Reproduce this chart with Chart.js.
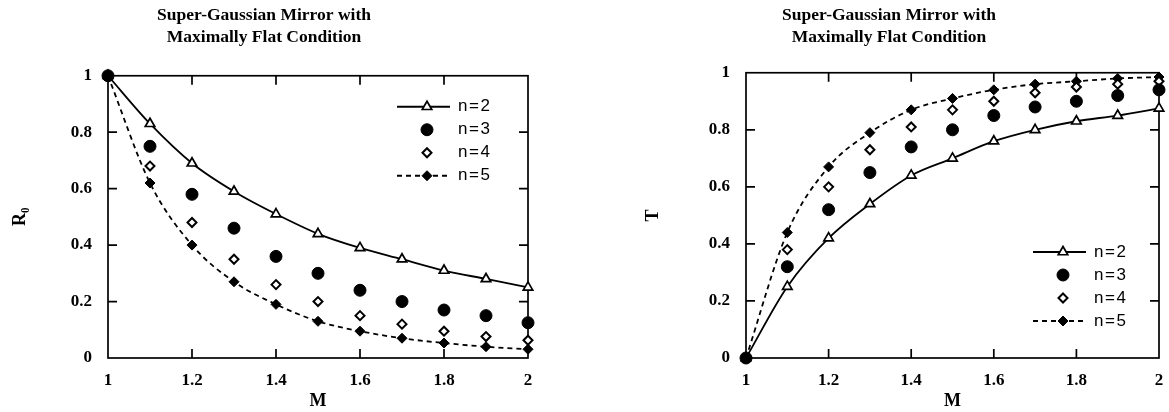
<!DOCTYPE html>
<html>
<head>
<meta charset="utf-8">
<title>Super-Gaussian Mirror with Maximally Flat Condition</title>
<script src="https://cdn.jsdelivr.net/npm/chart.js@4/dist/chart.umd.min.js"></script>
<style>
    body { margin: 0; background: #fff; }
    #r0-chart { position: absolute; left: 0; top: 0; }
    #t-chart { position: absolute; left: 619px; top: 0; }
</style>
</head>
<body>
<canvas id="r0-chart" width="554" height="412"></canvas>
<canvas id="t-chart" width="550" height="412"></canvas>
<script>
const mValues = [1, 1.1, 1.2, 1.3, 1.4, 1.5, 1.6, 1.7, 1.8, 1.9, 2]
const seriesLabels = ['n=2', 'n=3', 'n=4', 'n=5']

// R0 against M (left plot)
const r0N2 = [1, 0.83, 0.69, 0.59, 0.51, 0.44, 0.39, 0.35, 0.31, 0.28, 0.25]
const r0N3 = [1, 0.75, 0.58, 0.46, 0.36, 0.30, 0.24, 0.20, 0.17, 0.15, 0.125]
const r0N4 = [1, 0.68, 0.48, 0.35, 0.26, 0.20, 0.15, 0.12, 0.095, 0.076, 0.063]
const r0N5 = [1, 0.62, 0.40, 0.27, 0.19, 0.13, 0.095, 0.07, 0.053, 0.04, 0.031]

// T against M (right plot)
const tN2 = [0, 0.25, 0.42, 0.54, 0.64, 0.70, 0.76, 0.80, 0.83, 0.85, 0.875]
const tN3 = [0, 0.32, 0.52, 0.65, 0.74, 0.80, 0.85, 0.88, 0.90, 0.92, 0.94]
const tN4 = [0, 0.38, 0.60, 0.73, 0.81, 0.87, 0.90, 0.93, 0.95, 0.96, 0.97]
const tN5 = [0, 0.44, 0.67, 0.79, 0.87, 0.91, 0.94, 0.96, 0.97, 0.98, 0.985]

const xTicks = [1, 1.2, 1.4, 1.6, 1.8, 2]
const yTicks = [0, 0.2, 0.4, 0.6, 0.8, 1]
const titleLines = ['Super-Gaussian Mirror with', 'Maximally Flat Condition']

Chart.defaults.font.family = '"Liberation Serif", serif'
Chart.defaults.color = '#000'

function toPoints(values) {
    return mValues.map((m, i) => ({ x: m, y: values[i] }))
}

function buildDatasets(n2, n3, n4, n5) {
    return [
        {
            label: seriesLabels[0], data: toPoints(n2), showLine: true,
            borderColor: '#000', borderWidth: 1.8, cubicInterpolationMode: 'monotone',
            pointStyle: 'triangle', pointRadius: 5.5, pointBackgroundColor: '#fff',
            pointBorderColor: '#000', pointBorderWidth: 1.7, clip: false, order: 2
        },
        {
            label: seriesLabels[1], data: toPoints(n3), showLine: false,
            pointStyle: 'circle', pointRadius: 6, pointBackgroundColor: '#000',
            pointBorderColor: '#000', pointBorderWidth: 1, clip: false, order: 0
        },
        {
            label: seriesLabels[2], data: toPoints(n4), showLine: false,
            pointStyle: 'rectRot', pointRadius: 4.5, pointBackgroundColor: '#fff',
            pointBorderColor: '#000', pointBorderWidth: 2, clip: false, order: 1
        },
        {
            label: seriesLabels[3], data: toPoints(n5), showLine: true,
            borderColor: '#000', borderWidth: 1.8, borderDash: [5, 4], cubicInterpolationMode: 'monotone',
            pointStyle: 'rectRot', pointRadius: 5, pointBackgroundColor: '#000',
            pointBorderColor: '#000', pointBorderWidth: 1, clip: false, order: 3
        }
    ]
}

// frame round the plot with the small ticks pointing inwards
const boxPlugin = {
    id: 'box',
    beforeDatasetsDraw(chart) {
        let { ctx, chartArea: a, scales: { x, y } } = chart
        ctx.save()
        ctx.strokeStyle = '#000'
        ctx.lineWidth = 1.7
        ctx.strokeRect(a.left, a.top, a.right - a.left, a.bottom - a.top)
        ctx.beginPath()
        xTicks.slice(1, -1).forEach(v => {
            let px = x.getPixelForValue(v)
            ctx.moveTo(px, a.bottom); ctx.lineTo(px, a.bottom - 9)
            ctx.moveTo(px, a.top); ctx.lineTo(px, a.top + 9)
        })
        yTicks.slice(1, -1).forEach(v => {
            let py = y.getPixelForValue(v)
            ctx.moveTo(a.left, py); ctx.lineTo(a.left + 9, py)
            ctx.moveTo(a.right, py); ctx.lineTo(a.right - 9, py)
        })
        ctx.stroke()
        ctx.restore()
    }
}

// legend drawn inside the plot, line sample + marker + label
const legendPlugin = {
    id: 'plotLegend',
    afterDatasetsDraw(chart, args, opts) {
        let { ctx, chartArea: a } = chart
        let x0 = a.right - opts.right
        let y0 = opts.bottom ? a.bottom - opts.bottom : a.top + opts.top
        ctx.save()
        chart.data.datasets.forEach((ds, i) => {
            let yy = y0 + i * 23
            ctx.strokeStyle = '#000'
            if (ds.showLine) {
                ctx.setLineDash(ds.borderDash || [])
                ctx.lineWidth = ds.borderWidth
                ctx.beginPath()
                ctx.moveTo(x0, yy)
                ctx.lineTo(x0 + 53, yy)
                ctx.stroke()
            }
            ctx.setLineDash([])
            ctx.fillStyle = ds.pointBackgroundColor
            ctx.strokeStyle = ds.pointBorderColor
            ctx.lineWidth = ds.pointBorderWidth
            Chart.helpers.drawPoint(ctx, {
                pointStyle: ds.pointStyle, radius: ds.pointRadius,
                rotation: 0, borderWidth: ds.pointBorderWidth
            }, x0 + 30, yy)
            ctx.fillStyle = '#000'
            ctx.font = '17px "Liberation Sans", Arial, sans-serif'
            ctx.letterSpacing = '1.5px'
            ctx.textBaseline = 'middle'
            ctx.textAlign = 'left'
            ctx.fillText(ds.label, x0 + 61, yy)
        })
        ctx.restore()
    }
}

const tickFont = { family: '"Liberation Serif", serif', size: 17, weight: 'bold' }
const axisFont = { family: '"Liberation Serif", serif', size: 18, weight: 'bold' }

function makeChart(canvasId, yTitle, datasets, opts) {
    return new Chart(document.getElementById(canvasId), {
        type: 'scatter',
        data: { datasets: datasets },
        options: {
            responsive: false,
            animation: false,
            events: [],
            layout: { padding: { left: 0, right: opts.padRight, top: 0, bottom: 0 } },
            plugins: {
                legend: { display: false },
                tooltip: { enabled: false },
                title: {
                    display: true, text: titleLines, color: '#000',
                    font: { family: '"Liberation Serif", serif', size: 17.5, weight: 'bold', lineHeight: 1.25 },
                    padding: { top: 5, bottom: opts.titleGap }
                },
                plotLegend: opts.legend
            },
            scales: {
                x: {
                    type: 'linear', min: 1, max: 2,
                    grid: { display: false }, border: { display: false },
                    afterBuildTicks: s => { s.ticks = xTicks.map(v => ({ value: v })) },
                    afterFit: s => { s.height = 54 },
                    ticks: { color: '#000', padding: 4, font: tickFont, callback: v => String(Math.round(v * 10) / 10) },
                    title: { display: true, text: 'M', color: '#000', font: axisFont, padding: { top: 0, bottom: 0 } }
                },
                y: {
                    type: 'linear', min: 0, max: 1,
                    grid: { display: false }, border: { display: false },
                    afterBuildTicks: s => { s.ticks = yTicks.map(v => ({ value: v })) },
                    afterFit: s => { s.width = opts.yWidth },
                    ticks: { color: '#000', padding: 8, font: tickFont, callback: v => String(Math.round(v * 10) / 10) },
                    title: { display: true, text: yTitle, color: '#000', font: axisFont, padding: { top: opts.yTitlePad, bottom: 0 } }
                }
            }
        },
        plugins: [boxPlugin, legendPlugin]
    })
}

makeChart('r0-chart', 'R₀', buildDatasets(r0N2, r0N3, r0N4, r0N5), {
    padRight: 26, titleGap: 27, yWidth: 108, yTitlePad: 10,
    legend: { right: 131, top: 31 }
})

makeChart('t-chart', 'T', buildDatasets(tN2, tN3, tN4, tN5), {
    padRight: 10, titleGap: 24, yWidth: 127, yTitlePad: 24,
    legend: { right: 126, bottom: 106 }
})
</script>
</body>
</html>
